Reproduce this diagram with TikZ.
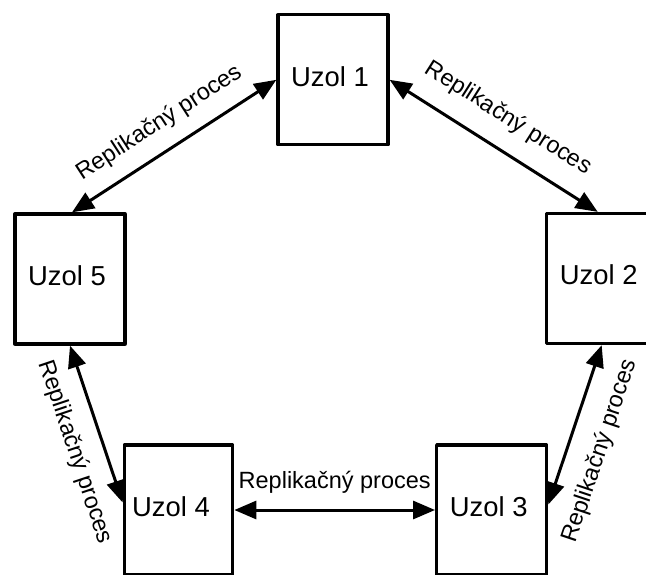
\documentclass[tikz,border=0pt]{standalone}
\usepackage{fontspec}
\setmainfont{Liberation Sans}
\usetikzlibrary{arrows.meta}
\begin{document}
\begin{tikzpicture}[x=1pt,y=-1pt,
  uzol/.style={draw, line width=3.3pt, minimum width=110pt, minimum height=130pt,
    inner sep=0pt, text depth=7pt, line join=round,
    font=\fontsize{27.4}{30}\selectfont},
  repl/.style={line width=3pt,
    {Triangle[length=22pt,width=18pt]}-{Triangle[length=22pt,width=18pt]}},
  lab/.style={font=\fontsize{23.5}{26}\selectfont, sloped, inner sep=0pt}]
\useasboundingbox (0,0) rectangle (646,574);
\clip (0,0) rectangle (646,574);
\node[uzol] (n1) at (333,79.8) {\hspace*{-6pt}Uzol 1};
\node[uzol] (n5) at (70,279) {\hspace*{-6pt}Uzol 5};
\node[uzol] (n2) at (601.7,278.5) {\hspace*{-6pt}Uzol 2};
\node[uzol, minimum width=108.4pt] (n4) at (178.5,510) {\hspace*{-15pt}Uzol 4};
\node[uzol] (n3) at (491.7,510) {\hspace*{-6pt}Uzol 3};
\draw[repl] (n1.west) -- node[lab, above, outer ysep=16.5pt, pos=0.5] {Replikačný proces} ([xshift=2pt]n5.north);
\draw[repl] (n1.east) -- node[lab, above, outer ysep=20pt, pos=0.49] {Replikačný proces} ([xshift=-4pt]n2.north);
\draw[repl] (n5.south) -- node[lab, below, outer ysep=18pt, pos=0.62] {Replikačný proces} ([yshift=7.5pt]n4.west);
\draw[repl] (n2.south) -- node[lab, below, outer ysep=21pt, pos=0.6] {Replikačný proces} ([yshift=5.5pt]n3.east);
\draw[repl] (n4.east) -- node[lab, above, outer ysep=17pt, pos=0.5] {Replikačný proces} (n3.west);
\end{tikzpicture}
\end{document}
